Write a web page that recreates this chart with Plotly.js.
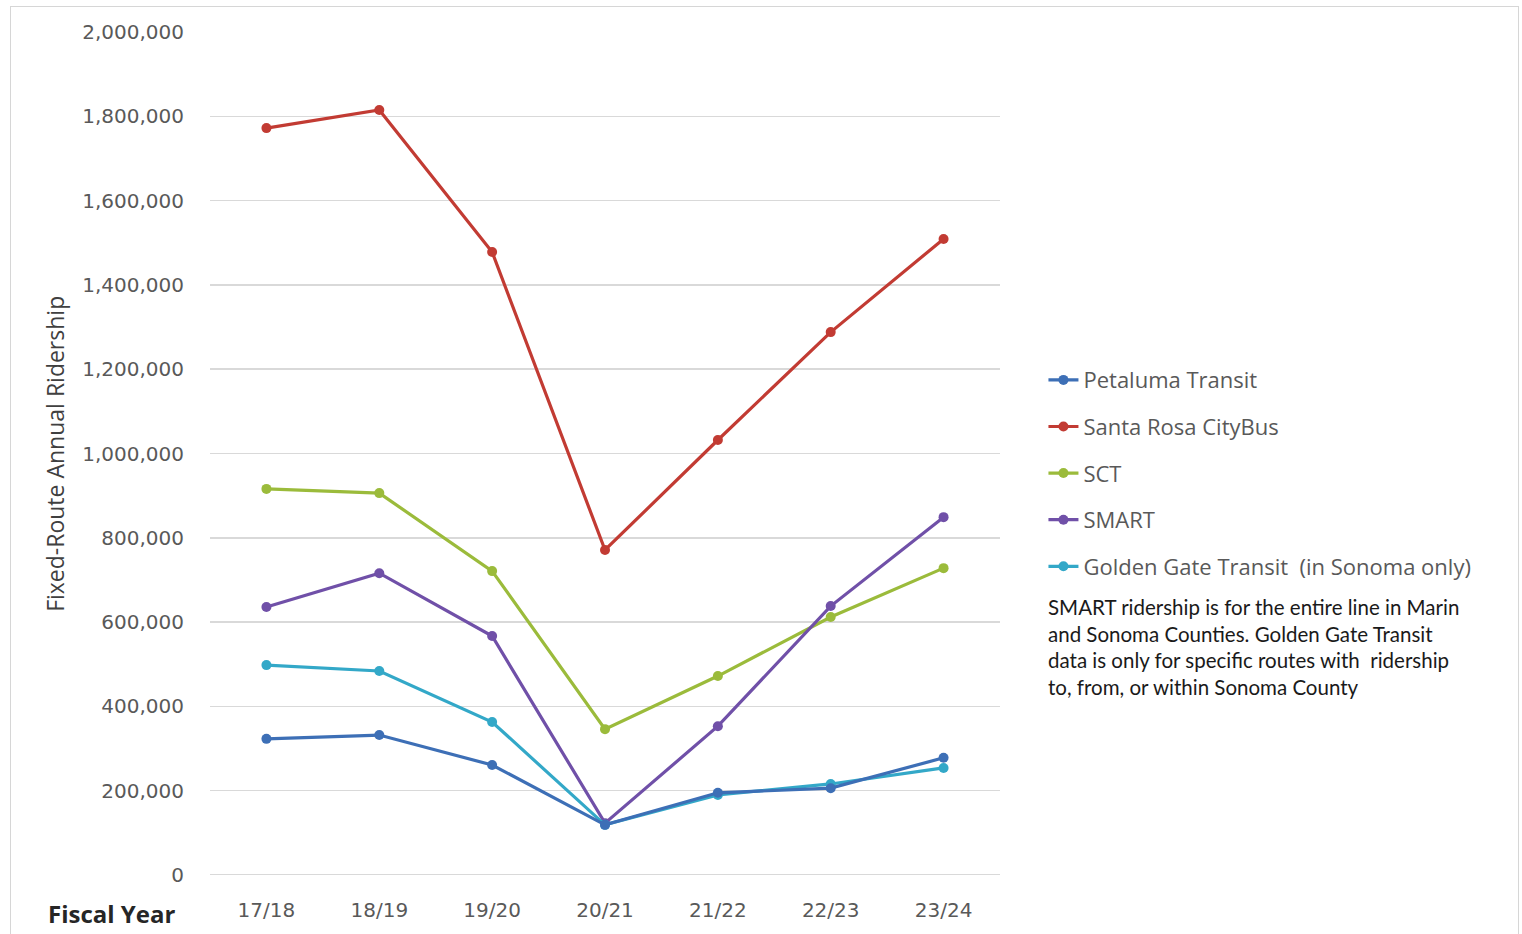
<!DOCTYPE html>
<html>
<head>
<meta charset="utf-8">
<script src="https://cdn.plot.ly/plotly-3.0.1.min.js"></script>
<style>
html,body{margin:0;padding:0;background:#fff;}
#wrap{position:relative;width:1522px;height:934px;}
#chart{width:1522px;height:934px;}
#frame{position:absolute;left:10px;top:6px;width:1507px;height:940px;border:1.5px solid #d6d6d6;pointer-events:none;}
</style>
</head>
<body>
<div id="wrap"><div id="chart"></div><div id="frame"></div></div>
<script>
const years = ["17/18","18/19","19/20","20/21","21/22","22/23","23/24"];
const seriesNames = ["Petaluma Transit","Santa Rosa CityBus","SCT","SMART","Golden Gate Transit  (in Sonoma only)"];
const petaluma = [323000, 332000, 261000, 119000, 195000, 206000, 278000];
const santaRosa = [1772000, 1815000, 1478000, 771000, 1032000, 1288000, 1509000];
const sct = [916000, 906000, 721000, 346000, 472000, 612000, 728000];
const smart = [636000, 716000, 567000, 123000, 353000, 638000, 849000];
const goldenGate = [498000, 484000, 363000, 119000, 190000, 216000, 254000];
const colors = ["#3d6fb6","#c23b33","#9bbb3b","#7050a8","#33a8c8"];
const values = [petaluma, santaRosa, sct, smart, goldenGate];
const yTicks = [0,200000,400000,600000,800000,1000000,1200000,1400000,1600000,1800000,2000000];
const yTickText = ["0","200,000","400,000","600,000","800,000","1,000,000","1,200,000","1,400,000","1,600,000","1,800,000","2,000,000"];

const traces = values.map((v,i)=>({
  type:'scatter', mode:'lines+markers', x:years, y:v, name:seriesNames[i],
  legendgroup:'g'+i, legendrank:i+1,
  line:{color:colors[i], width:3.2},
  marker:{color:colors[i], size:10}
}));
// draw Petaluma last so it sits on top of Golden Gate
const order = [1,2,3,4,0];
const data = order.map(i=>traces[i]);

const layout = {
  width:1522, height:934,
  margin:{l:210, r:522, t:32, b:59},
  paper_bgcolor:'#fff', plot_bgcolor:'#fff',
  showlegend:true,
  legend:{
    x:1.055, xanchor:'left', y:0.612, yanchor:'top',
    font:{family:'Open Sans, sans-serif', size:22, color:'#595959'},
    traceorder:'grouped', tracegroupgap:15,
    bgcolor:'rgba(0,0,0,0)'
  },
  xaxis:{
    type:'category', categoryarray:years, range:[-0.5,6.5],
    showgrid:false, zeroline:false,
    showline:false,
    ticks:'outside', ticklen:17, tickcolor:'rgba(0,0,0,0)',
    tickfont:{family:'DejaVu Sans, sans-serif', size:20, color:'#595959'}
  },
  yaxis:{
    range:[0,2000000], tickvals:yTicks, ticktext:yTickText,
    showgrid:true, gridcolor:'#d9d9d9', gridwidth:1.5,
    zeroline:false, showline:false,
    ticks:'outside', ticklen:21, tickcolor:'rgba(0,0,0,0)',
    tickfont:{family:'DejaVu Sans, sans-serif', size:20, color:'#595959'}
  },
  shapes:[
    {type:'line', xref:'paper', yref:'y', x0:0, x1:1, y0:0, y1:0, line:{color:'#d9d9d9', width:2}}
  ],
  annotations:[
    {text:'Fixed-Route Annual Ridership', xref:'paper', yref:'paper', x:-0.197, y:0.5, textangle:-90,
     showarrow:false, font:{family:'Open Sans, sans-serif', size:23, color:'#404040'}, xanchor:'center', yanchor:'middle'},
    {text:'<b>Fiscal Year</b>', xref:'paper', yref:'paper', x:-0.207, y:-0.046, xanchor:'left', yanchor:'middle',
     showarrow:false, font:{family:'Open Sans, sans-serif', size:24, color:'#262626'}},
    {text:'SMART ridership is for the entire line in Marin<br>and Sonoma Counties. Golden Gate Transit<br>data is only for specific routes with  ridership<br>to, from, or within Sonoma County',
     xref:'paper', yref:'paper', x:1.058, y:0.335, xanchor:'left', yanchor:'top', align:'left',
     showarrow:false, font:{family:'Lato, sans-serif', size:20.5, color:'#1a1a1a'}}
  ]
};
Plotly.newPlot('chart', data, layout, {displayModeBar:false, staticPlot:true});
</script>
</body>
</html>
